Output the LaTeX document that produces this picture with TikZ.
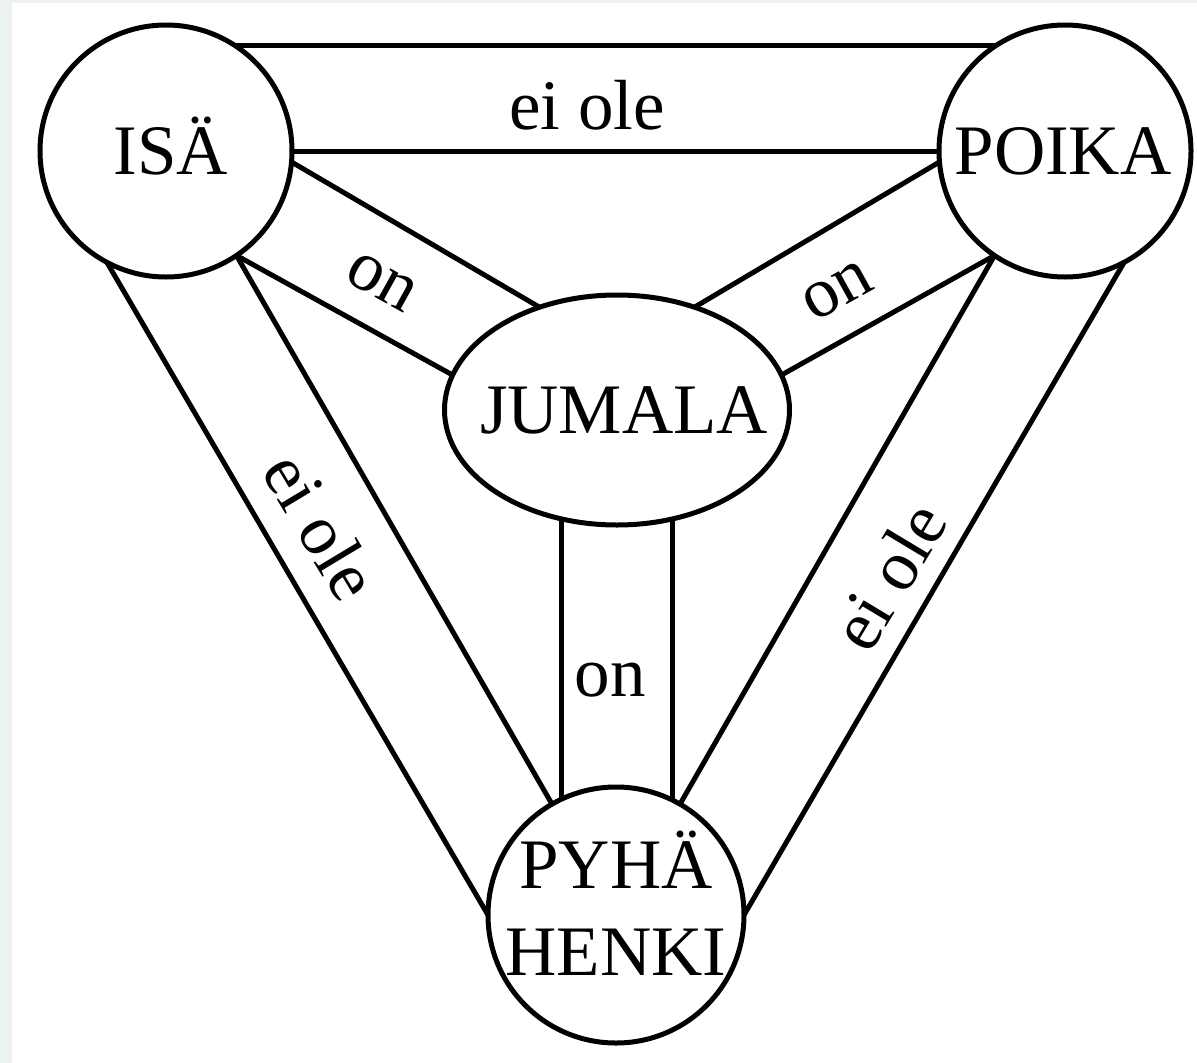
\documentclass[tikz,border=0pt]{standalone}
\usepackage{fontspec}
\setmainfont{Liberation Serif}
\usetikzlibrary{shapes.geometric}
\definecolor{edgebg}{RGB}{235,244,240}
% #1: twice the x shift, #2: raise, #3: text
\newcommand{\cirtxt}[3]{\makebox[0pt]{\hspace*{#1}\raisebox{#2}[0pt][0pt]{#3}}}
\begin{document}
\begin{tikzpicture}[x=1pt,y=-1pt,
  bigfont/.style={font=\fontsize{71}{85}\selectfont},
  circ/.style={circle,draw,line width=5pt,inner sep=0pt,outer sep=0pt,
    text height=0pt,text depth=0pt,bigfont},
  ell/.style={ellipse,draw,line width=5pt,inner sep=0pt,outer sep=0pt,
    text height=0pt,text depth=0pt,bigfont},
  ln/.style={line width=5pt},
  lbl/.style={inner sep=0pt,bigfont}]
\fill[edgebg] (0,0) rectangle (1197,1063);
\fill[white] (12,3) rectangle (1197,1063);
\useasboundingbox (0,0) rectangle (1197,1063);

\node[circ,minimum size=252pt] (isa) at (166,151) {\cirtxt{10pt}{-23pt}{ISÄ}};
\node[circ,minimum size=252pt] (poika) at (1065,151) {\cirtxt{-4pt}{-23pt}{POIKA}};
\node[ell,minimum width=345pt,minimum height=230pt] (jumala) at (617,410) {\cirtxt{14pt}{-23pt}{JUMALA}};
\node[circ,minimum size=256pt] (pyha) at (616,915) {\cirtxt{0pt}{27pt}{PYHÄ}\cirtxt{0pt}{-60pt}{HENKI}};

\draw[ln] (isa.57) -- (poika.123);
\draw[ln] (isa.0) -- (poika.180);
\draw[ln] (isa.-5) -- (jumala.127);
\draw[ln] (isa.-56) -- (jumala.168);
\draw[ln] (poika.-175) -- (jumala.53);
\draw[ln] (poika.-124) -- (jumala.12);
\draw[ln] (isa.-118) -- (pyha.180);
\draw[ln] (isa.-56) -- (pyha.120);
\draw[ln] (poika.-62) -- (pyha.0);
\draw[ln] (poika.-124) -- (pyha.60);
\draw[ln] (jumala.-117) -- (jumala.-117 |- pyha.115);
\draw[ln] (jumala.-63) -- (jumala.-63 |- pyha.65);

\node[lbl,anchor=base] (l1) at (587,129) {ei ole};
\node[lbl,rotate=-29] (l2) at (381,282) {on};
\node[lbl,rotate=29] (l3) at (838,291) {on};
\node[lbl] (l4) at (610,680) {on};
\node[lbl,rotate=-59] (l5) at (321,526) {ei ole};
\node[lbl,rotate=59] (l6) at (889,576) {ei ole};
\end{tikzpicture}
\end{document}
